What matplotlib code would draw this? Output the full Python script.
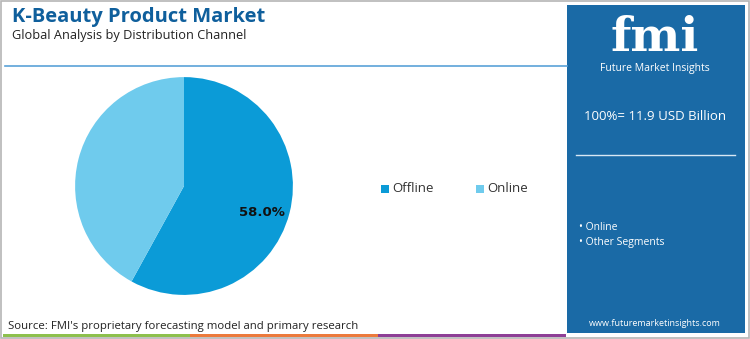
import matplotlib.pyplot as plt
from matplotlib.patches import Rectangle

# data
segments = ['Offline', 'Online']
shares = [58.0, 42.0]
colors = ['#0b9bd7', '#6fcbed']
total_label = '100%= 11.9 USD Billion'
panel_items = ['Online', 'Other Segments']

W, H = 750, 339
fig = plt.figure(figsize=(7.5, 3.39), dpi=100)

def px(x, y):
    # pixel coords (top-left origin) -> figure fraction
    return x / W, 1 - y / H

def box(x0, y0, x1, y1, z=-5, **kw):
    fig.add_artist(Rectangle(px(x0, y1), (x1 - x0) / W, (y1 - y0) / H,
                             transform=fig.transFigure, zorder=z, **kw))

# outer frame
box(1, 1, 749, 338, z=-10, facecolor='white', edgecolor='#b5b5b5', lw=1.2)

# title block
fig.text(*px(12, 17), 'K-Beauty Product Market', fontsize=14.5, fontweight='bold',
         color='#0f5f9c', va='center', family='Open Sans')
fig.text(*px(12, 36), 'Global Analysis by Distribution Channel', fontsize=9.2,
         color='#222222', va='center', family='Open Sans')
fig.add_artist(plt.Line2D([5 / W, 567 / W], [1 - 66 / H] * 2, color='#5aa2d8', lw=1.2,
                          transform=fig.transFigure))

# pie
ax = fig.add_axes([(184 - 110) / W, 1 - (186 + 110) / H, 220 / W, 220 / H])
ax.set_zorder(5)
wedges, _ = ax.pie(shares, colors=colors, startangle=90, counterclock=False,
                   wedgeprops=dict(linewidth=0), radius=0.99)
ax.set_xlim(-1, 1)
ax.set_ylim(-1, 1)
ax.set_aspect('equal')
ax.text(0.71, -0.24, f'{shares[0]:.1f}%', ha='center', va='center',
        fontsize=9.5, fontweight='bold', color='#111111')

# legend
leg_x = [381, 476]
for lx, name, c in zip(leg_x, segments, colors):
    box(lx, 185, lx + 8, 193, z=6, facecolor=c, edgecolor='none')
    fig.text(*px(lx + 11, 189), name, fontsize=9.5, color='#333333', va='center',
             family='Open Sans')

# right panel
box(567, 5, 745, 333, facecolor='#1a6aa6', edgecolor='none')
fig.text(*px(655, 38), 'fmi', fontsize=34, fontweight='bold', color='white',
         ha='center', va='center', family='DejaVu Serif')
fig.text(*px(655, 68), 'Future Market Insights', fontsize=7.5, color='white',
         ha='center', va='center', family='Open Sans')
fig.text(*px(655, 117), total_label, fontsize=9.5, color='white',
         ha='center', va='center', family='Open Sans')
fig.add_artist(plt.Line2D([576 / W, 735 / W], [1 - 155 / H] * 2, color='#d8e8f4', lw=1,
                          transform=fig.transFigure))
for i, item in enumerate(panel_items):
    fig.text(*px(579, 228 + 14 * i), '\u2022 ' + item, fontsize=7.5, color='white',
             va='center', family='Open Sans')
fig.text(*px(655, 324), 'www.futuremarketinsights.com', fontsize=6.5, color='white',
         ha='center', va='center', family='Open Sans')

# source + bottom stripes
fig.text(*px(8, 327), "Source: FMI's proprietary forecasting model and primary research",
         fontsize=8.2, color='#222222', va='center', family='Open Sans')
stripes = [(3, 190, '#8dc04d'), (190, 378, '#ec7a3c'), (378, 566, '#8e3f96')]
for x0, x1, c in stripes:
    box(x0, 334, x1, 337, facecolor=c, edgecolor='none')

fig.savefig('out.png', dpi=100)
